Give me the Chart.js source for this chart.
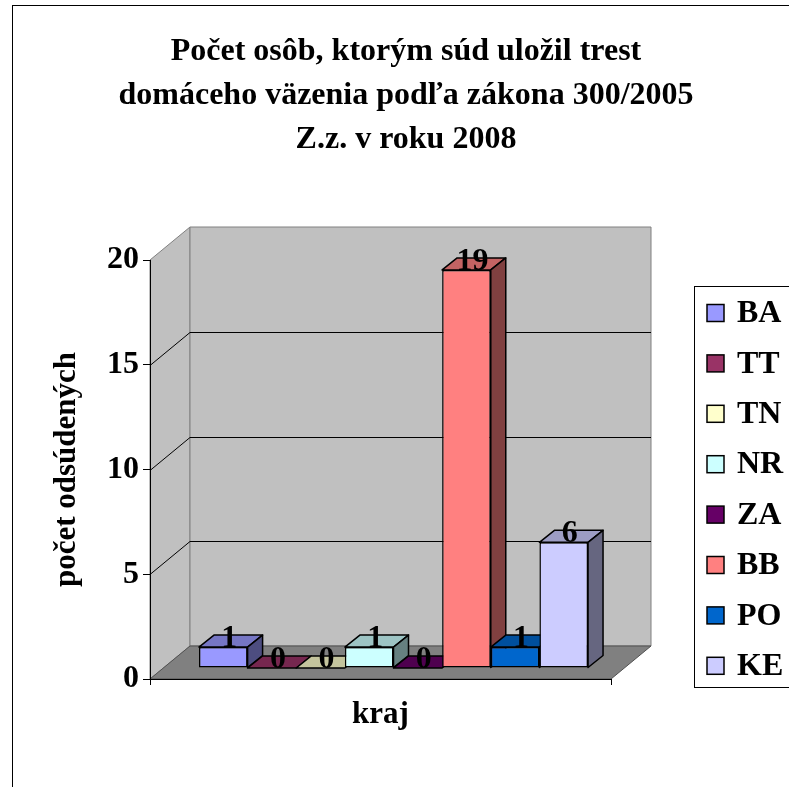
<!DOCTYPE html>
<html>
<head>
<meta charset="utf-8">
<script src="https://cdn.jsdelivr.net/npm/chart.js@4.4.1/dist/chart.umd.min.js"></script>
<style>
  html, body { margin: 0; padding: 0; background: #fff; }
</style>
</head>
<body>
<canvas id="graf" width="789" height="787"></canvas>
<script>
const kraje = ['BA', 'TT', 'TN', 'NR', 'ZA', 'BB', 'PO', 'KE'];
const pocty = [1, 0, 0, 1, 0, 19, 1, 6];
const yTicks = [0, 5, 10, 15, 20];
const farby = ['#9999FF', '#993366', '#FFFFCC', '#CCFFFF', '#660066', '#FF8080', '#0066CC', '#CCCCFF'];

const nadpis = ['Počet osôb, ktorým súd uložil trest', 'domáceho väzenia podľa zákona 300/2005', 'Z.z. v roku 2008'];

const PISMO = '"Liberation Serif", "Times New Roman", serif';
const HLBKA = { dx: 40, dy: -33 };   // cela hlbka podlahy
const POSUN = { dx: 13, dy: -11 };   // predna stena stlpcov
const STLPEC = { dx: 15, dy: -12 };  // hlbka stlpca

function tien(hex, k) {
  const n = parseInt(hex.slice(1), 16);
  const r = Math.round((n >> 16 & 255) * k);
  const g = Math.round((n >> 8 & 255) * k);
  const b = Math.round((n & 255) * k);
  return 'rgb(' + r + ',' + g + ',' + b + ')';
}

function poly(ctx, pts) {
  ctx.beginPath();
  ctx.moveTo(pts[0][0], pts[0][1]);
  for (let i = 1; i < pts.length; i++) ctx.lineTo(pts[i][0], pts[i][1]);
  ctx.closePath();
}

const priestor = {
  id: 'priestor',
  beforeDraw(chart) {
    const { ctx, chartArea: a, scales: { y } } = chart;
    const { dx, dy } = HLBKA;
    const y0 = y.getPixelForValue(0);
    const yTop = y.getPixelForValue(y.max);
    ctx.save();
    ctx.lineWidth = 1;
    ctx.fillStyle = '#C0C0C0';
    ctx.strokeStyle = '#808080';
    // lava stena
    poly(ctx, [[a.left, y0], [a.left, yTop], [a.left + dx, yTop + dy], [a.left + dx, y0 + dy]]);
    ctx.fill(); ctx.stroke();
    // zadna stena
    poly(ctx, [[a.left + dx, yTop + dy], [a.right + dx, yTop + dy], [a.right + dx, y0 + dy], [a.left + dx, y0 + dy]]);
    ctx.fill(); ctx.stroke();
    // podlaha
    ctx.fillStyle = '#808080';
    ctx.strokeStyle = '#505050';
    poly(ctx, [[a.left, y0], [a.right, y0], [a.right + dx, y0 + dy], [a.left + dx, y0 + dy]]);
    ctx.fill(); ctx.stroke();
    // mriezka
    ctx.strokeStyle = '#000';
    y.ticks.forEach(t => {
      if (t.value === 0 || t.value === y.max) return;
      const py = Math.round(y.getPixelForValue(t.value)) + 0.5;
      ctx.beginPath();
      ctx.moveTo(a.left, py);
      ctx.lineTo(a.left + dx, py + dy);
      ctx.lineTo(a.right + dx, py + dy);
      ctx.stroke();
    });
    ctx.restore();
  },
  beforeDatasetDraw() {
    return false;
  },
  afterDatasetsDraw(chart) {
    const { ctx } = chart;
    const metas = chart.getSortedVisibleDatasetMetas();
    ctx.save();
    ctx.translate(POSUN.dx, POSUN.dy);
    metas.forEach(meta => {
      const el = meta.data[0];
      const farba = chart.data.datasets[meta.index].backgroundColor;
      el.draw(ctx);
      const { x, y, base, width } = el.getProps(['x', 'y', 'base', 'width'], true);
      const l = x - width / 2, r = x + width / 2;
      const { dx, dy } = STLPEC;
      ctx.lineWidth = 1.5;
      ctx.strokeStyle = '#000';
      ctx.lineJoin = 'round';
      ctx.fillStyle = tien(farba, 0.77);
      poly(ctx, [[l, y], [r, y], [r + dx, y + dy], [l + dx, y + dy]]);
      ctx.fill(); ctx.stroke();
      if (base - y > 0.5) {
        ctx.fillStyle = tien(farba, 0.5);
        poly(ctx, [[r, y], [r + dx, y + dy], [r + dx, base + dy], [r, base]]);
        ctx.fill(); ctx.stroke();
      }
    });
    ctx.font = 'bold 32px ' + PISMO;
    ctx.fillStyle = '#000';
    ctx.textAlign = 'center';
    ctx.textBaseline = 'alphabetic';
    metas.forEach(meta => {
      const el = meta.data[0];
      ctx.fillText(String(chart.data.datasets[meta.index].data[0]), el.x + 6, el.y);
    });
    ctx.restore();
  },
  afterDraw(chart) {
    const { ctx } = chart;
    ctx.save();
    ctx.strokeStyle = '#000';
    ctx.lineWidth = 1;
    // ramcek celeho grafu
    ctx.strokeRect(12.5, 5.5, 820, 820);
    // legenda
    ctx.strokeRect(694.5, 286.5, 200, 401);
    ctx.font = 'bold 32px ' + PISMO;
    ctx.textAlign = 'left';
    ctx.textBaseline = 'middle';
    chart.data.datasets.forEach((ds, i) => {
      const cy = 313 + i * 50.4;
      ctx.fillStyle = ds.backgroundColor;
      ctx.fillRect(707, cy - 8.5, 17, 17);
      ctx.lineWidth = 1.5;
      ctx.strokeRect(707, cy - 8.5, 17, 17);
      ctx.fillStyle = '#000';
      ctx.fillText(ds.label, 737, cy + 1);
    });
    ctx.restore();
  }
};

const pismo31 = { family: PISMO, size: 31, weight: 'bold' };
const pismo32 = { family: PISMO, size: 32, weight: 'bold' };

new Chart(document.getElementById('graf'), {
  type: 'bar',
  data: {
    labels: [''],
    datasets: kraje.map((k, i) => ({
      label: k,
      data: [pocty[i]],
      backgroundColor: farby[i],
      borderColor: '#000',
      borderWidth: 1.5,
      borderSkipped: false,
      categoryPercentage: 0.844,
      barPercentage: 1
    }))
  },
  options: {
    responsive: false,
    animation: false,
    layout: { padding: { left: 23, right: 0, top: 0, bottom: 0 } },
    plugins: {
      legend: { display: false },
      tooltip: { enabled: false },
      title: {
        display: true,
        text: nadpis,
        color: '#000',
        font: { family: PISMO, size: 32, weight: 'bold', lineHeight: 1.375 },
        padding: { top: 30, bottom: 98 }
      }
    },
    scales: {
      x: {
        grid: { display: true, drawOnChartArea: false, drawTicks: true, tickLength: 6, color: '#000' },
        border: { display: true, color: '#000', width: 1 },
        ticks: { display: false },
        title: { display: true, text: 'kraj', color: '#000', font: pismo31, padding: { top: 0, bottom: 53 } },
        afterFit(s) { s.height = 108; }
      },
      y: {
        min: yTicks[0],
        max: yTicks[yTicks.length - 1],
        afterBuildTicks(s) { s.ticks = yTicks.map(v => ({ value: v })); },
        grid: { drawOnChartArea: false, tickLength: 7, color: '#000' },
        border: { color: '#000' },
        ticks: { padding: 4, color: '#000', font: pismo32 },
        title: { display: true, text: 'počet odsúdených', color: '#000', font: pismo31, padding: { top: 25, bottom: 0 } },
        afterFit(s) { s.width = 127; }
      },
      pravo: {
        type: 'linear',
        position: 'right',
        display: true,
        grid: { display: false },
        border: { display: false },
        ticks: { display: false },
        afterFit(s) { s.width = 178; }
      }
    }
  },
  plugins: [priestor]
});
</script>
</body>
</html>
